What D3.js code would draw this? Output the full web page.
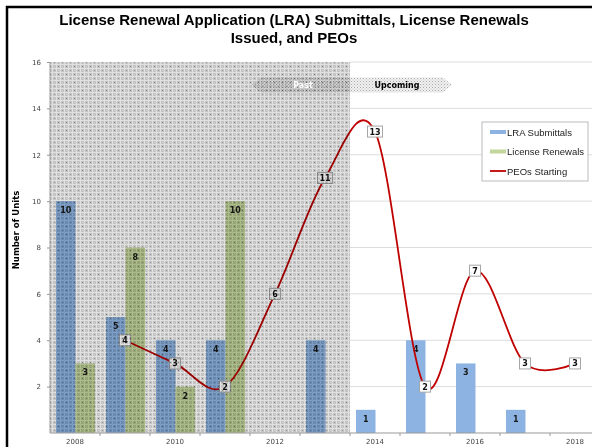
<!DOCTYPE html>
<html><head><meta charset="utf-8">
<script src="https://cdn.jsdelivr.net/npm/d3@7"></script>
<style>html,body{margin:0;padding:0;background:#fff;overflow:hidden}</style>
</head><body>
<script>
const years = [2008,2009,2010,2011,2012,2013,2014,2015,2016,2017,2018];
const lraSubmittals   = [10,5,4,4,0,4,1,4,3,1,0];
const licenseRenewals = [3,8,2,10,0,0,0,0,0,0,0];
const peosStarting    = [null,4,3,2,6,11,13,2,7,3,3];
const yTicks = [2,4,6,8,10,12,14,16];
const xTickLabels = [2008,2010,2012,2014,2016,2018];
const lastPastYear = 2013;
const seriesNames = ["LRA Submittals","License Renewals","PEOs Starting"];
const titleLines = ["License Renewal Application (LRA) Submittals, License Renewals","Issued, and PEOs"];

const W=592,H=447;
const svg=d3.select("body").append("svg").attr("width",W).attr("height",H)
  .style("font-family","'DejaVu Sans',Verdana,sans-serif");
const defs=svg.append("defs");

// past shading pattern
const pat=defs.append("pattern").attr("id","past").attr("patternUnits","userSpaceOnUse").attr("width",8).attr("height",8);
pat.append("rect").attr("width",8).attr("height",8).attr("fill","#c4c4c4");
[[0,0,8,1],[0,4,8,1],[0,0,1,8],[4,0,1,8]].forEach(r=>pat.append("rect").attr("x",r[0]).attr("y",r[1]).attr("width",r[2]).attr("height",r[3]).attr("fill","#e0e0e0"));
pat.append("rect").attr("x",2).attr("y",2).attr("width",1).attr("height",1).attr("fill","#777");
pat.append("rect").attr("x",6).attr("y",6).attr("width",1).attr("height",1).attr("fill","#999");
// banner dotted pattern
const bp=defs.append("pattern").attr("id","ban").attr("patternUnits","userSpaceOnUse").attr("width",3).attr("height",3);
bp.append("rect").attr("width",3).attr("height",3).attr("fill","#f0f0f0");
bp.append("rect").attr("width",1).attr("height",1).attr("fill","#a8a8a8");
bp.append("rect").attr("x",1.5).attr("y",1.5).attr("width",1).attr("height",1).attr("fill","#c0c0c0");

const x=d3.scaleBand().domain(years).range([50,600]).padding(0);
const bw=x.bandwidth();
const x1=d3.scaleBand().domain(["lra","lr"]).range([bw*0.12,bw*0.9]).padding(0);
const y=d3.scaleLinear().domain([0,16]).range([433,62]);
const pastX1=x(lastPastYear)+bw;

// frame
svg.append("rect").attr("x",7).attr("y",7).attr("width",620).attr("height",470)
  .attr("fill","none").attr("stroke","#000").attr("stroke-width",2.5);

// title
svg.append("g").selectAll("text").data(titleLines).join("text")
  .attr("x",294).attr("y",(d,i)=>24.5+i*18.5).attr("text-anchor","middle")
  .attr("font-family","'Liberation Sans',Arial,sans-serif").attr("font-weight","bold")
  .attr("font-size",15).attr("fill","#000").text(d=>d);

// gridlines (upcoming area)
svg.append("g").selectAll("line").data(yTicks).join("line")
  .attr("x1",pastX1).attr("x2",W).attr("y1",d=>y(d)).attr("y2",d=>y(d))
  .attr("stroke","#dcdcdc").attr("stroke-width",1);

// bars
const barData=[];
years.forEach((yr,i)=>{
  if(lraSubmittals[i]>0) barData.push({yr,k:"lra",v:lraSubmittals[i]});
  if(licenseRenewals[i]>0) barData.push({yr,k:"lr",v:licenseRenewals[i]});
});
const colors={lra:"#8db3e2",lr:"#c3d69b"};
const bg=svg.append("g");
bg.selectAll("rect").data(barData).join("rect")
  .attr("x",d=>x(d.yr)+x1(d.k)).attr("width",x1.bandwidth())
  .attr("y",d=>y(d.v)).attr("height",d=>y(0)-y(d.v)).attr("fill",d=>colors[d.k]);
bg.selectAll("text").data(barData).join("text")
  .attr("x",d=>x(d.yr)+x1(d.k)+x1.bandwidth()/2).attr("y",d=>y(d.v)+12)
  .attr("text-anchor","middle").attr("font-weight","bold").attr("font-size",8).attr("fill","#1a1a1a")
  .text(d=>d.v);

// PEO line
const pts=years.map((yr,i)=>({yr,v:peosStarting[i]})).filter(d=>d.v!=null);
const line=d3.line().x(d=>x(d.yr)+bw/2).y(d=>y(d.v)).curve(d3.curveCardinal.tension(0));
svg.append("path").attr("d",line(pts)).attr("fill","none").attr("stroke","#c00000").attr("stroke-width",1.8);
const lg=svg.append("g").selectAll("g").data(pts).join("g")
  .attr("transform",d=>`translate(${x(d.yr)+bw/2},${y(d.v)})`);
lg.append("rect").attr("x",d=>d.v>=10?-7.5:-5.5).attr("y",-5.5).attr("width",d=>d.v>=10?15:11).attr("height",11)
  .attr("fill","#fff").attr("stroke","#a6a6a6").attr("stroke-width",1);
lg.append("text").attr("y",3).attr("text-anchor","middle").attr("font-weight","bold").attr("font-size",8).attr("fill","#111").text(d=>d.v);

// banner
const bx0=252,bx1=452,by=85,bh=7.5;
svg.append("path").attr("d",`M${bx0},${by}L${bx0+9},${by-bh}L${bx1-9},${by-bh}L${bx1},${by}L${bx1-9},${by+bh}L${bx0+9},${by+bh}Z`)
  .attr("fill","url(#ban)");
svg.append("text").attr("x",397).attr("y",88).attr("text-anchor","middle").attr("font-weight","bold").attr("font-size",8).attr("fill","#000").text("Upcoming");

// past overlay (multiply)
svg.append("rect").attr("x",x(years[0])).attr("y",y(16)).attr("width",pastX1-x(years[0])).attr("height",y(0)-y(16))
  .attr("fill","url(#past)").style("mix-blend-mode","multiply");
svg.append("text").attr("x",303).attr("y",88).attr("text-anchor","middle").attr("font-weight","bold").attr("font-size",8).attr("fill","#fff").text("Past");

// axes
const ya=svg.append("g").attr("transform","translate(50,0)")
  .call(d3.axisLeft(y).tickValues(yTicks).tickSize(3).tickPadding(6));
ya.selectAll("text").attr("font-size",7).attr("fill","#444").attr("font-family","'DejaVu Sans',Verdana,sans-serif");
ya.selectAll("line,path").attr("stroke","#999");
ya.select("path").attr("d","M0,62V433");

const xa=svg.append("g").attr("transform","translate(0,433)");
xa.append("line").attr("x1",50).attr("x2",W).attr("stroke","#999");
xa.selectAll("line.t").data(years.slice(1)).join("line").attr("class","t")
  .attr("x1",d=>x(d)).attr("x2",d=>x(d)).attr("y1",0).attr("y2",3).attr("stroke","#999");
xa.selectAll("text").data(xTickLabels).join("text")
  .attr("x",d=>x(d)+bw/2).attr("y",11).attr("text-anchor","middle").attr("font-size",7).attr("fill","#444").text(d=>d);

// y title
svg.append("text").attr("transform","translate(18.5,230) rotate(-90)").attr("text-anchor","middle")
  .attr("font-weight","bold").attr("font-size",8.5).attr("fill","#000").text("Number of Units");

// legend
const leg=svg.append("g");
leg.append("rect").attr("x",482).attr("y",122).attr("width",106).attr("height",59).attr("fill","#fff").attr("stroke","#bbb");
const li=leg.selectAll("g").data(seriesNames).join("g").attr("transform",(d,i)=>`translate(490,${132+i*19.5})`);
li.each(function(d,i){
  const g=d3.select(this);
  if(i<2) g.append("rect").attr("x",0).attr("y",-2).attr("width",16).attr("height",4).attr("fill",i==0?colors.lra:colors.lr);
  else g.append("line").attr("x1",0).attr("x2",16).attr("stroke","#c00000").attr("stroke-width",1.8);
});
li.append("text").attr("x",17).attr("y",3.5).attr("font-family","'Liberation Sans',Arial,sans-serif")
  .attr("font-size",9.5).attr("fill","#222").text(d=>d);
</script>
</body></html>
